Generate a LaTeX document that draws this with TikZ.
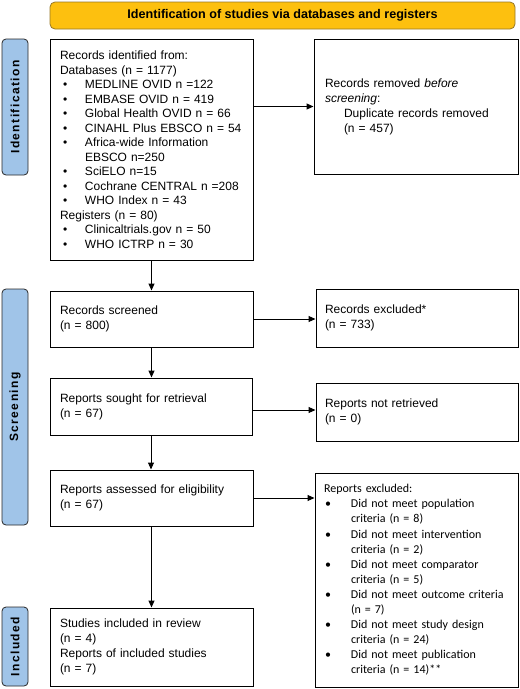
\documentclass[tikz,border=0pt]{standalone}
\usepackage{fontspec}
\setmainfont{Liberation Sans}
\newfontfamily\calibri{Carlito}
\usetikzlibrary{arrows.meta}
\definecolor{banner}{RGB}{253,192,15}
\definecolor{bannerline}{RGB}{150,120,40}
\definecolor{sideblue}{RGB}{160,196,232}
\definecolor{sideline}{RGB}{40,40,40}
\tikzset{
  box/.style={draw=black, line width=1pt, fill=white, inner xsep=10pt, inner ysep=0pt, align=left,
    font=\fontsize{12}{15}\selectfont},
  side/.style={draw=sideline, line width=0.8pt, fill=sideblue, rounded corners=4pt, rotate=90,
    font=\bfseries\fontsize{12}{13}\selectfont\addfontfeature{LetterSpace=12}, inner sep=0pt},
  arr/.style={-{Triangle[length=7pt,width=6pt]}, line width=1pt},
}
\newcommand{\bul}{\makebox[25pt][l]{\hspace{3pt}\textbullet}}
\newcommand{\bulc}{\makebox[27pt][l]{\hspace{1pt}\textbullet}}
\begin{document}
\begin{tikzpicture}[x=1pt,y=-1pt]
\useasboundingbox (0,0) rectangle (520,689);
% banner
\node[draw=bannerline, line width=0.8pt, fill=banner, rounded corners=5pt, minimum width=465pt, minimum height=27pt,
  font=\bfseries\fontsize{12.6}{14}\selectfont] (banner) at (282.5,15.5) {Identification of studies via databases and registers};
% side labels
\node[side, minimum width=136pt, minimum height=26pt] (sideid) at (15,107) {Identification};
\node[side, minimum width=236pt, minimum height=26pt] (sidescr) at (15,407) {Screening};
\node[side, minimum width=79pt, minimum height=26pt] (sideinc) at (15,646.5) {Included};
% boxes
\node[box, minimum width=203pt, minimum height=221pt, text width=183pt,
  font=\fontsize{12}{14.5}\selectfont] (ident) at (151.5,149.5) {%
Records identified from:\\
Databases (n = 1177)\\
\bul MEDLINE OVID n =122\\
\bul EMBASE OVID n = 419\\
\bul Global Health OVID n = 66\\
\bul CINAHL Plus EBSCO n = 54\\
\bul Africa-wide Information\\
\hspace*{25pt}EBSCO n=250\\
\bul SciELO n=15\\
\bul Cochrane CENTRAL n =208\\
\bul WHO Index n = 43\\
Registers (n = 80)\\
\bul Clinicaltrials.gov n = 50\\
\bul WHO ICTRP n = 30};
\node[box, minimum width=204pt, minimum height=135pt, inner xsep=11pt, text width=182pt] (removed) at (416,106.5) {%
Records removed \textit{before}\\
\textit{screening}:\\
\hspace*{19pt}Duplicate records removed\\
\hspace*{19pt}(n = 457)};
\node[box, minimum width=203pt, minimum height=56pt, text width=183pt] (screened) at (151.5,319) {%
Records screened\\(n = 800)};
\node[box, minimum width=202pt, minimum height=58pt, text width=184pt, inner xsep=9pt] (excluded) at (417,318) {%
Records excluded*\\(n = 733)};
\node[box, minimum width=202pt, minimum height=57pt, text width=182pt] (sought) at (151,406.5) {%
Reports sought for retrieval\\(n = 67)};
\node[box, minimum width=202pt, minimum height=58pt, text width=184pt, inner xsep=9pt] (notretr) at (417,412) {%
Reports not retrieved\\(n = 0)};
\node[box, minimum width=203pt, minimum height=56pt, text width=183pt] (assessed) at (151.5,498) {%
Reports assessed for eligibility\\(n = 67)};
\node[box, minimum width=203pt, minimum height=214pt, text width=185pt, inner xsep=9pt,
  font=\calibri\fontsize{12}{15.1}\selectfont] (repexcl) at (416.5,580) {%
Reports excluded:\\
\bulc Did not meet population\\
\hspace*{27pt}criteria (n = 8)\\
\bulc Did not meet intervention\\
\hspace*{27pt}criteria (n = 2)\\
\bulc Did not meet comparator\\
\hspace*{27pt}criteria (n = 5)\\
\bulc Did not meet outcome criteria\\
\hspace*{27pt}(n = 7)\\
\bulc Did not meet study design\\
\hspace*{27pt}criteria (n = 24)\\
\bulc Did not meet publication\\
\hspace*{27pt}criteria (n = 14)**};
\node[box, minimum width=203pt, minimum height=78pt, text width=183pt] (included) at (151.5,647) {%
Studies included in review\\(n = 4)\\Reports of included studies\\(n = 7)};
% arrows
\draw[arr] (ident.east |- removed.west) -- (removed.west);
\draw[arr] (ident.south) -- (screened.north);
\draw[arr] (screened.east) -- (screened.east -| excluded.west);
\draw[arr] (screened.south) -- (screened.south |- sought.north);
\draw[arr] (sought.east |- 0,410) -- (notretr.west |- 0,410);
\draw[arr] (sought.south) -- (sought.south |- assessed.north);
\draw[arr] (assessed.east) -- (assessed.east -| repexcl.west);
\draw[arr] (assessed.south) -- (included.north);
\end{tikzpicture}
\end{document}
